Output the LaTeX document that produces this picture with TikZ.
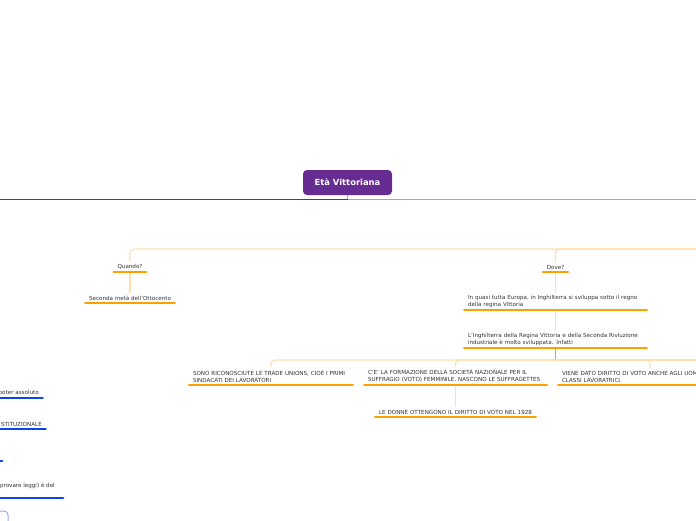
\documentclass[tikz,border=0pt]{standalone}
\usepackage{fontspec}
\setsansfont{DejaVu Sans}
\usepackage{tikz}
\usetikzlibrary{positioning}
\definecolor{vitc}{RGB}{102,44,145}
\definecolor{stubc}{RGB}{196,164,128}
\definecolor{bluec}{RGB}{20,70,225}
\definecolor{oranc}{RGB}{245,150,30}
\definecolor{peachc}{RGB}{255,224,172}
\definecolor{ulc}{RGB}{255,160,0}
\definecolor{bulc}{RGB}{10,70,235}
\definecolor{lbluec}{RGB}{150,172,250}
\definecolor{txtc}{RGB}{50,50,50}

\begin{document}
\begin{tikzpicture}[x=1pt,y=-1pt,font=\sffamily,
  root/.style={fill=vitc,rounded corners=4pt,minimum width=89pt,minimum height=25pt,
    text=white,font=\sffamily\bfseries\fontsize{8.4}{10}\selectfont},
  leaf/.style={inner xsep=5pt,inner ysep=2.5pt,text=txtc,anchor=south,
    font=\sffamily\fontsize{5.6}{7.1}\selectfont},
  para/.style={leaf,align=left},
  twig/.style={draw=peachc,line width=1.1pt,rounded corners=4pt},
  ul/.style={draw=ulc,line width=2.8pt,line cap=round,shorten <=1.4pt,shorten >=1.4pt},
  bul/.style={draw=bulc,line width=2.8pt,line cap=round,shorten >=1.4pt}]
\useasboundingbox (0,0) rectangle (696,520);
\clip (0,0) rectangle (696,520);
% --- root and main branches ---
\node[root] (eta) at (347.5,182.5) {Età Vittoriana};
\coordinate (foot) at (347.5,199);
\coordinate (edgeL) at (0,199);
\coordinate (edgeR) at (696,199);
\draw[stubc,line width=1.6pt] (eta.south) -- (foot);
\draw[bluec,line width=0.9pt] (foot) -- (edgeL);
\draw[oranc,line width=0.9pt] (foot) -- (edgeR);
% --- Quando? / Dove? ---
\coordinate (twigR) at (696,249);
\node[leaf,minimum width=34pt] (quando) at (130,272) {Quando?};
\node[leaf,minimum width=90pt] (otto) at (130,303) {Seconda metà dell'Ottocento};
\node[leaf,minimum width=27pt] (dove) at (555.5,272) {Dove?};
\node[para,text width=175pt] (europa) at (555.5,310)
  {In quasi tutta Europa, in Inghilterra si sviluppa sotto il regno\\della regina Vittoria};
\node[para,text width=175pt] (inghil) at (555.5,348)
  {L'Inghilterra della Regina Vittoria e della Seconda Rivluzione\\industriale è molto sviluppata. Infatti};
\draw[twig] (twigR) -| (quando.north);
\draw[twig] (twigR) -| (dove.north);
\draw[twig] (quando.south) -- (otto.north);
\draw[twig] (dove.south) -- (europa.north);
\draw[twig] (europa.south) -- (inghil.north);
\foreach \n in {quando,otto,dove,europa,inghil}
  \draw[ul] (\n.south west) -- (\n.south east);
% --- consequences ---
\coordinate (hub) at (555.5,360);
\coordinate (hubR) at (696,360);
\node[para,text width=156pt] (sono) at (271,385)
  {SONO RICONOSCIUTE LE TRADE UNIONS, CIOÈ I PRIMI\\SINDACATI DEI LAVORATORI};
\node[para,text width=175pt] (ce) at (455.5,385)
  {C'E' LA FORMAZIONE DELLA SOCIETÀ NAZIONALE PER IL\\SUFFRAGIO (VOTO) FEMMINILE. NASCONO LE SUFFRAGETTES};
\node[para,text width=176pt] (viene) at (650,385)
  {\mbox{VIENE DATO DIRITTO DI VOTO ANCHE AGLI UOMINI DELLE}\\CLASSI LAVORATRICI.};
\node[leaf,text width=153pt,align=center] (donne) at (455.5,417)
  {LE DONNE OTTENGONO IL DIRITTO DI VOTO NEL 1928};
\draw[oranc,line width=1pt] (inghil.south) -- (hub);
\draw[twig] (hub) -| (sono.north);
\draw[twig] (hub) -| (ce.north);
\draw[twig] (hub) -| (viene.north);
\draw[twig] (hub) -- (hubR);
\draw[twig] (ce.south) -- (donne.north);
\foreach \n in {sono,ce,viene,donne}
  \draw[ul] (\n.south west) -- (\n.south east);
% --- left side (cut by the frame) ---
\node[leaf,anchor=south east] (potere) at (44,398) {poter assoluto};
\node[leaf,anchor=south east] (costit) at (47,429) {STITUZIONALE};
\node[leaf,anchor=base east] (leggi) at (60,487) {provare leggi) è del};
\draw[bul] (-30,398) -- (potere.south east);
\draw[bul] (-30,429) -- (costit.south east);
\draw[bul] (-30,461) -- (3.5,461);
\draw[bul] (-30,498) -- (64.5,498);
\draw[draw=lbluec,line width=1pt,rounded corners=4pt] (-20,511) -| (8,530);
\end{tikzpicture}
\end{document}
